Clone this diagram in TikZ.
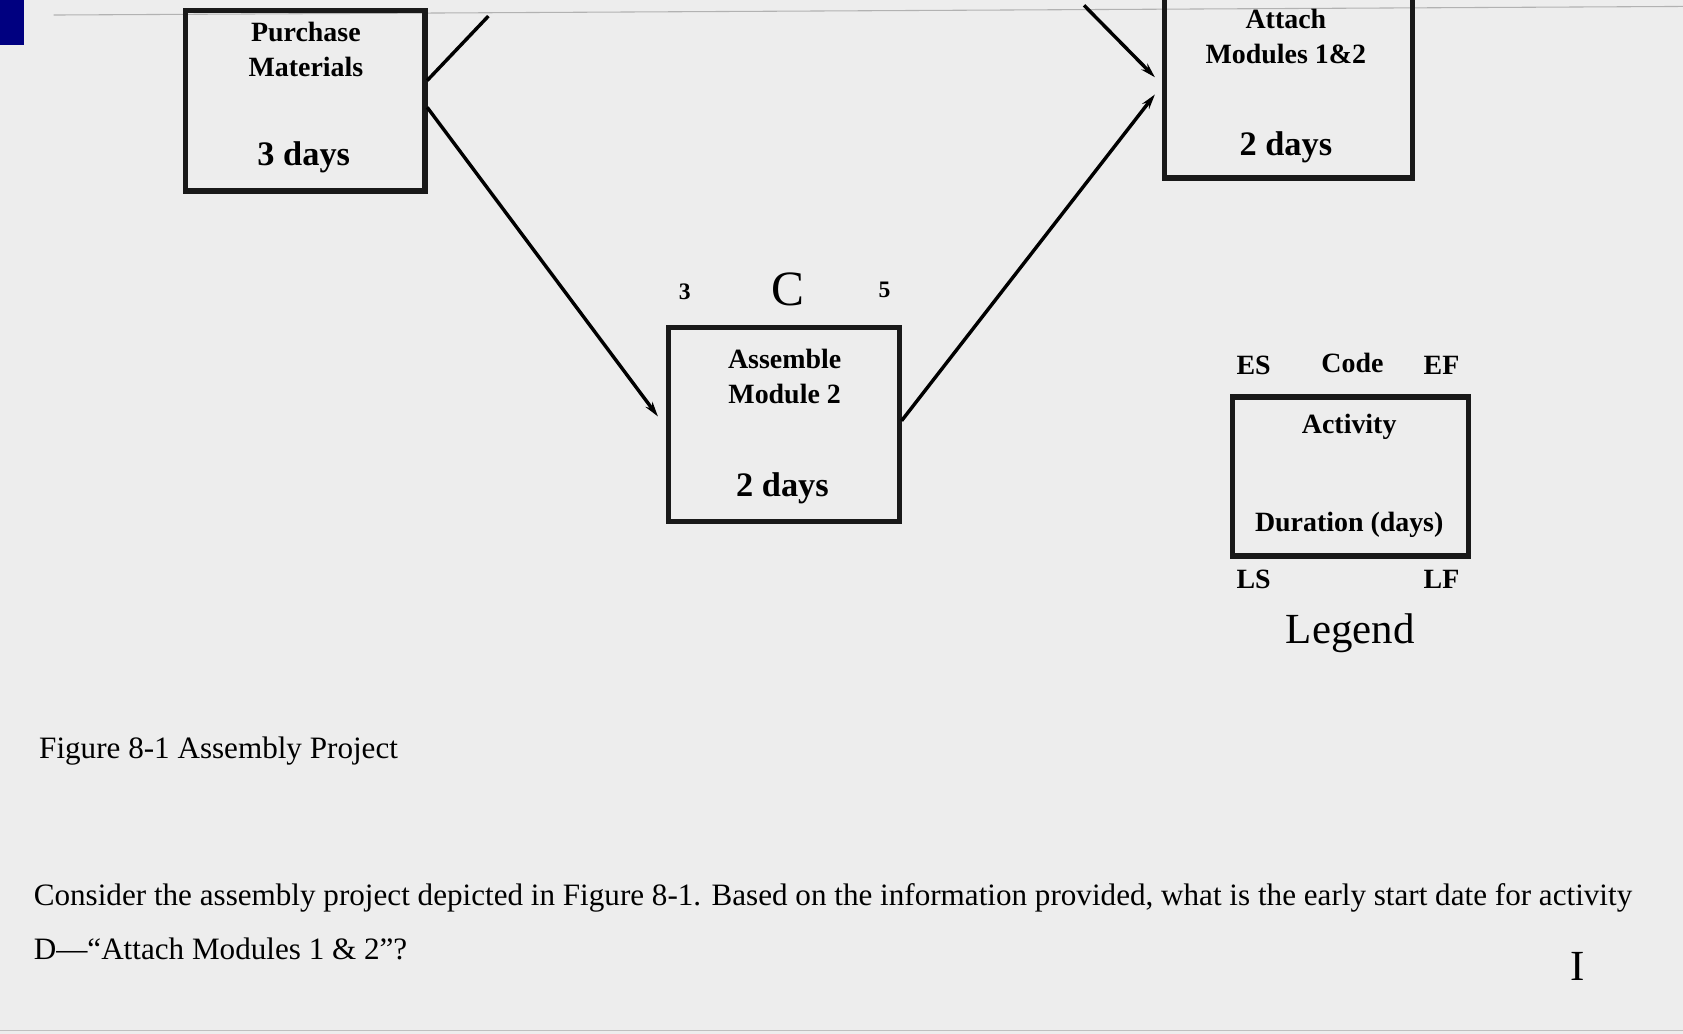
\documentclass[tikz,border=0pt]{standalone}
\usepackage{fontspec}
\setmainfont{Liberation Serif}
\usetikzlibrary{arrows.meta}
\begin{document}
\begin{tikzpicture}[x=1pt,y=-1pt,
  box/.style={draw=black!90,line width=5pt},
  lbl/.style={font=\fontsize{32}{34}\selectfont\bfseries},
  sm/.style={font=\fontsize{26}{33}\selectfont\bfseries},
  conn/.style={line width=3.2pt,-{Stealth[length=14pt,width=8pt]}},
  captext/.style={font=\fontsize{29}{32}\selectfont,anchor=west}]
\fill[gray!14] (0,0) rectangle (1568,963);
\useasboundingbox (0,0) rectangle (1568,963);
\fill[blue!50!black] (0,0) rectangle (22,42);
\draw[gray!60,line width=1pt] (50,14) -- (1568,6);
\draw[gray!50,line width=1pt] (0,960) -- (1568,960);
% boxes
\draw[box] (173,10) rectangle (396,178);
\node[sm,align=center] (at) at (285,46) {Purchase\\Materials};
\node[lbl] (ad) at (283,147) {3 days};
\draw[box] (1085,-5) rectangle (1316,166);
\node[sm,align=center] (dt) at (1198,34) {Attach\\Modules 1\&2};
\node[lbl] (dd) at (1198,137) {2 days};
\draw[box] (623,305) rectangle (838,486);
\node[sm,align=center] (ct) at (731,351) {Assemble\\Module 2};
\node[lbl] (cd) at (729,455) {2 days};
\node[sm,font=\fontsize{22}{22}\selectfont\bfseries] (c3) at (638,272) {3};
\node[font=\fontsize{46}{46}\selectfont] (cc) at (734,270) {C};
\node[sm,font=\fontsize{22}{22}\selectfont\bfseries] (c5) at (824,270) {5};
% legend
\draw[box] (1148,370) rectangle (1368,518);
\node[sm] (la) at (1257,398) {Activity};
\node[sm] (ld) at (1257,489) {Duration (days)};
\node[sm] (les) at (1168,340) {ES};
\node[sm] (lc) at (1260,338) {Code};
\node[sm] (lef) at (1343,340) {EF};
\node[sm] (lls) at (1168,540) {LS};
\node[sm] (llf) at (1343,540) {LF};
\node[font=\fontsize{40}{40}\selectfont] (lg) at (1258,590) {Legend};
% connectors
\coordinate (a1) at (398,75); \coordinate (a1e) at (455,15);
\draw[line width=3.2pt] (a1) -- (a1e);
\coordinate (a2) at (398,100); \coordinate (cL) at (613,388);
\draw[conn] (a2) -- (cL);
\coordinate (cR) at (840,392); \coordinate (dL) at (1076,88);
\draw[conn] (cR) -- (dL);
\coordinate (bS) at (1010,5); \coordinate (dL2) at (1076,72);
\draw[conn] (bS) -- (dL2);
% caption
\node[captext] (fig) at (33,700) {Figure 8-1 Assembly Project};
\node[captext] (q1) at (28,837) {Consider the assembly project depicted in Figure 8-1. Based on the information provided, what is the early start date for activity};
\node[captext] (q2) at (28,884) {D—“Attach Modules 1 \& 2”?};
\node[font=\fontsize{40}{40}\selectfont] (cur) at (1470,900) {I};
\end{tikzpicture}
\end{document}
